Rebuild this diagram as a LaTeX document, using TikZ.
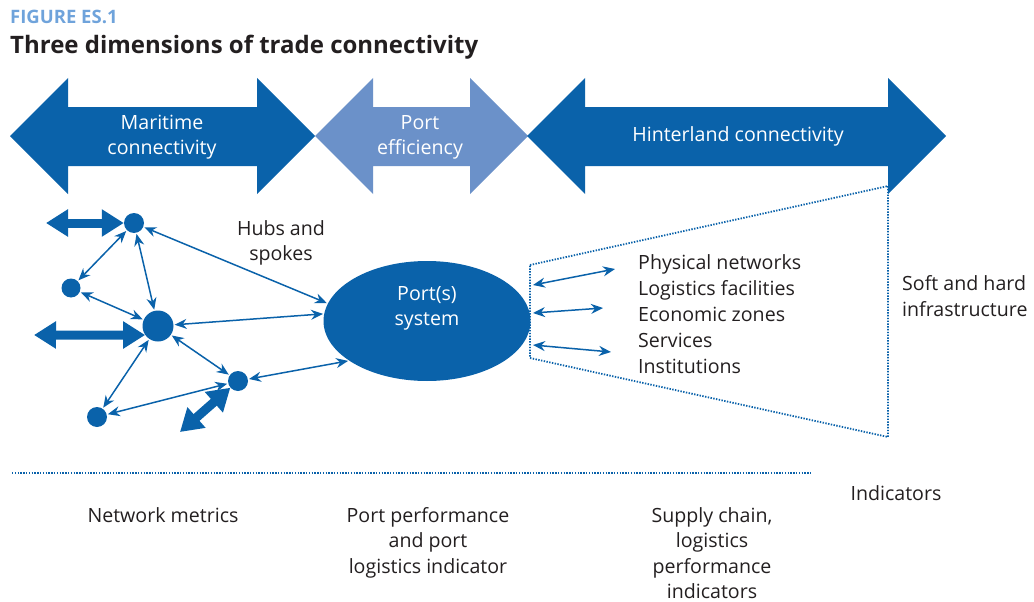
\documentclass[tikz,border=0pt]{standalone}
\usepackage{fontspec}
\setmainfont{Open Sans}
\usetikzlibrary{arrows.meta,shapes.geometric}
\definecolor{dblue}{HTML}{0A62AA}
\definecolor{lblue}{HTML}{6B91C9}
\definecolor{figblue}{HTML}{6FA3DB}
\definecolor{txt}{HTML}{231F20}
\begin{document}
\begin{tikzpicture}[x=1pt,y=-1pt,
  dot/.style={circle,fill=dblue,inner sep=0pt,minimum size=#1},
  thin/.style={draw=dblue,line width=1.5pt,shorten <=1pt,shorten >=1pt,
    {Stealth[length=12pt,width=10pt]}-{Stealth[length=12pt,width=10pt]}},
  fat/.style={draw=dblue,line width=9pt,
    {Triangle[length=22pt,width=26pt]}-{Triangle[length=22pt,width=26pt]}},
  dots/.style={draw=dblue,line width=1.8pt,dash pattern=on 1.4pt off 1.4pt},
  body/.style={text=txt,font=\fontsize{19.6}{25.5}\selectfont,inner sep=0pt},
  wtext/.style={text=white,font=\fontsize{19.6}{25}\selectfont,align=center,inner sep=0pt}]
\useasboundingbox (0,0) rectangle (1034,602);
% titles
\node[anchor=base west,inner sep=0pt,text=figblue,font=\fontsize{18.5}{20}\selectfont\bfseries] (fig) at (10,24) {FIGURE ES.1};
\node[anchor=base west,inner sep=0pt,text=txt,font=\fontsize{24}{26}\selectfont\bfseries] (title) at (10,54) {Three dimensions of trade connectivity};
% big arrows
\fill[dblue] (10,136) -- (68,78) -- (68,107) -- (257,107) -- (257,78) -- (315,136) -- (257,194) -- (257,166) -- (68,166) -- (68,194) -- cycle;
\fill[lblue] (315,136) -- (373,78) -- (373,107) -- (470,107) -- (470,78) -- (528,136) -- (470,194) -- (470,166) -- (373,166) -- (373,194) -- cycle;
\fill[dblue] (527,136) -- (585,78) -- (585,107) -- (888,107) -- (888,78) -- (946,136) -- (888,194) -- (888,166) -- (585,166) -- (585,194) -- cycle;
\node[wtext] (mar) at (162,137) {Maritime\\connectivity};
\node[wtext] (pe) at (420,137) {Port\\efficiency};
\node[wtext] (hin) at (738,136) {Hinterland connectivity};
% dotted trapezoid
\draw[dots] (530,265) -- (888,186) -- (888,437) -- (530,358) -- cycle;
% port ellipse
\node[ellipse,fill=dblue,minimum width=207pt,minimum height=120pt,inner sep=0pt] (port) at (427,321) {};
\node[wtext] (porttxt) at (427,308) {Port(s)\\system};
% network nodes
\node[dot=20pt] (A) at (134,223) {};
\node[dot=19pt] (B) at (71,288) {};
\node[dot=31pt] (C) at (158,326) {};
\node[dot=20pt] (D) at (238,381) {};
\node[dot=20pt] (E) at (97,417) {};
% thin arrows
\draw[thin] (A) -- (B);
\draw[thin] (A) -- (C);
\draw[thin] (A) -- (port.170);
\draw[thin] (B) -- (C);
\draw[thin] (C) -- (port.176);
\draw[thin] (C) -- (D);
\draw[thin] (C) -- (E);
\draw[thin] (E) -- (D);
\draw[thin] (D) -- (port.207);
% fat arrows
\coordinate (f1) at (46,223);
\coordinate (f2) at (34,335);
\coordinate (f3) at (180,432);
\draw[fat] (f1) -- (A);
\draw[fat] (f2) -- (C.215);
\draw[fat] (f3) -- (D);
% right arrows
\coordinate (r1a) at (533,285); \coordinate (r1b) at (615,269);
\coordinate (r2a) at (533,313); \coordinate (r2b) at (603,308);
\coordinate (r3a) at (533,345); \coordinate (r3b) at (611,352);
\draw[thin,shorten <=0pt,shorten >=0pt] (r1a) -- (r1b);
\draw[thin,shorten <=0pt,shorten >=0pt] (r2a) -- (r2b);
\draw[thin,shorten <=0pt,shorten >=0pt] (r3a) -- (r3b);
% texts
\node[body,align=center] (hubs) at (281,243) {Hubs and\\spokes};
\node[body,anchor=base west] (l1) at (638,269) {Physical networks};
\node[body,anchor=base west] (l2) at (638,295) {Logistics facilities};
\node[body,anchor=base west] (l3) at (638,321) {Economic zones};
\node[body,anchor=base west] (l4) at (638,347) {Services};
\node[body,anchor=base west] (l5) at (638,373) {Institutions};
\node[body,align=left,anchor=west] (soft) at (902,296) {Soft and hard\\infrastructure};
% bottom
\draw[dots] (12,473) -- (812,473);
\node[body] (ind) at (896,493) {Indicators};
\node[body,anchor=north] (nm) at (163,507) {Network metrics};
\node[body,anchor=north,align=center] (pp) at (428,507) {Port performance\\and port\\logistics indicator};
\node[body,anchor=north,align=center] (sc) at (712,507) {Supply chain,\\logistics\\performance\\indicators};
\end{tikzpicture}
\end{document}
